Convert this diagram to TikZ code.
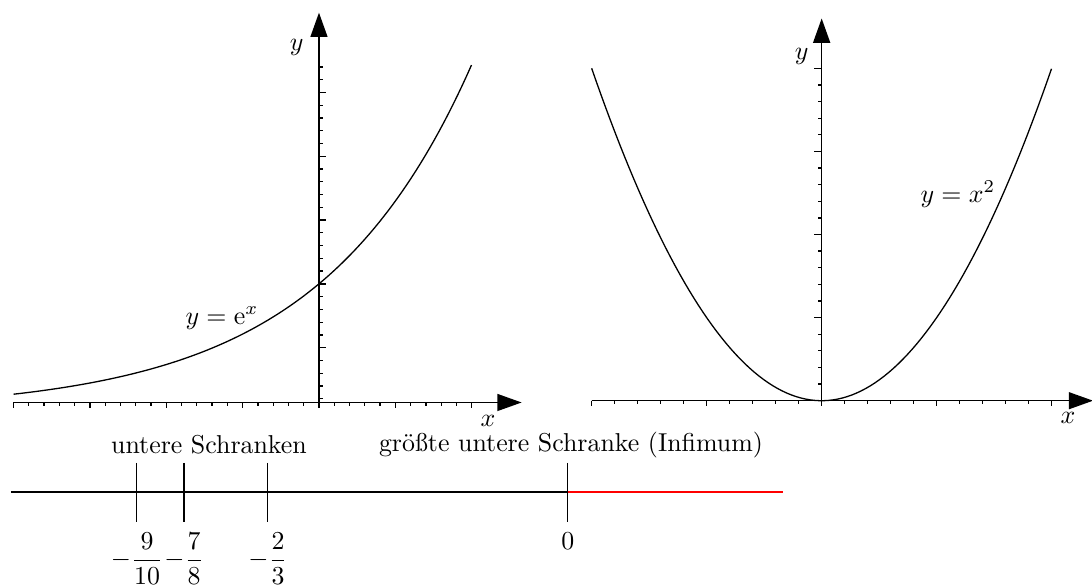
\documentclass[tikz,border=0pt]{standalone}
\usepackage{amsmath}
\usepackage{fontspec}
\usepackage{tikz}
\usetikzlibrary{positioning,arrows.meta}

\begin{document}
\begin{tikzpicture}[
    axis/.style={line width=0.6pt, -{Triangle[length=3.3mm,width=2.3mm]}},
    graph/.style={line width=0.5pt},
    tick/.style={line width=0.5pt},
    numline/.style={line width=0.4pt},
    lbl/.style={inner sep=1pt},
]
\useasboundingbox (-4.334,-2.493) rectangle (10.503,5.469);

% y = e^x
\begin{scope}[yshift=-0.122cm, x=2.075cm, y=1.734cm]
\foreach \i in {-20,...,10} \draw[tick] (\i/10,0.0705) -- ++(0,-1.2pt);
\foreach \i in {-2,-1.5,...,1} \draw[tick] (\i,0.0705) -- ++(0,-2pt);
\foreach \i in {1,...,27} \draw[tick] (0,\i/10) -- ++(1.5pt,0);
\foreach \i in {0.5,1,...,2.5} \draw[tick] (0,\i) -- ++(2.8pt,0);
\draw[axis] (-2,0.0705) -- (1.327,0.0705);
\draw[axis] (0,0.038) -- (0,3.125);
\draw[graph, domain=-2:1, samples=100] plot (\x,{exp(\x)});
\node[lbl] (ex) at (1.107,-0.0745) {$x$};
\node[lbl] (ey) at (-0.146,2.849) {$y$};
\node[lbl] (efun) at (-0.635,0.733) {$y=\mathrm{e}^x$};
\end{scope}

% y = x^2
\begin{scope}[shift={(6.830cm,0.0245cm)}, x=1.5625cm, y=1.129cm]
\foreach \i in {-10,...,10} \draw[tick] (\i/5,0) -- ++(0,-1.2pt);
\foreach \i in {-2,...,2} \draw[tick] (\i,0) -- ++(0,-2pt);
\foreach \i in {1,...,20} \draw[tick] (0,\i/5) -- ++(-1.5pt,0);
\foreach \i in {1,...,4} \draw[tick] (0,\i) -- ++(-2.8pt,0);
\draw[axis] (-2,0) -- (2.36,0);
\draw[axis] (0,-0.05) -- (0,4.60);
\draw[graph, domain=-2:2, samples=100] plot (\x,{\x*\x});
\node[lbl] (px) at (2.142,-0.208) {$x$};
\node[lbl] (py) at (-0.174,4.14) {$y$};
\node[lbl] (pfun) at (1.185,2.486) {$y=x^2$};
\end{scope}

% Zahlengerade
\coordinate (lstart) at (-4.185,-1.216);
\coordinate (linf) at (3.383,-1.216);
\coordinate (lend) at (6.304,-1.216);
\draw[numline] (lstart) -- (linf);
\draw[numline, red] (linf) -- (lend);
\foreach \x/\name/\val in {-2.473/ta/{-\dfrac{9}{10}}, -1.834/tb/{-\dfrac{7}{8}}, -0.693/tc/{-\dfrac{2}{3}}, 3.383/td/0}
  \draw[numline] (\x,-0.82) -- (\x,-1.62) node[anchor=north, inner sep=4pt] (\name) {$\val$};
\node (lower) at (-1.495,-0.577) {untere Schranken};
\node (infimum) at (3.424,-0.577) {größte untere Schranke (Infimum)};
\end{tikzpicture}
\end{document}
